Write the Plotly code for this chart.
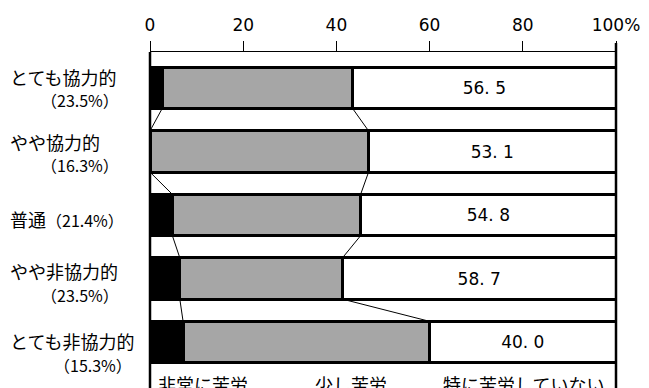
import plotly.graph_objects as go

# Data (rows top to bottom)
categories = ["とても協力的", "やや協力的", "普通", "やや非協力的", "とても非協力的"]
shares = ["23.5%", "16.3%", "21.4%", "23.5%", "15.3%"]
very_hard = [2.6, 0.0, 4.8, 6.4, 7.1]          # 非常に苦労
somewhat_hard = [40.9, 46.9, 40.4, 34.9, 52.9]  # 少し苦労
not_hard = [56.5, 53.1, 54.8, 58.7, 40.0]       # 特に苦労していない
series_names = ["非常に苦労", "少し苦労", "特に苦労していない"]
tick_vals = [0, 20, 40, 60, 80, 100]
tick_text = ["0", "20", "40", "60", "80", "100%"]

JP = "Noto Sans CJK JP"
NUM = "DejaVu Sans"
BW = 0.65
PITCH = 63.5      # px per category
Y0PIX = 88        # px of first bar centre
ypos = list(range(len(categories)))

# label layout (pixel offsets from bar centre, and anchors)
line1_dy = [-11, -9.5, 3.5, -7.7, -1.5]
line2_dy = [12, 13.5, None, 16, 22.5]
line2_right = [121, 121, None, 121, 134]
line1_left = 8

fig = go.Figure()
colors = ["#000000", "#a6a6a6", "#ffffff"]
vals = [very_hard, somewhat_hard, not_hard]
for k in range(3):
    kw = {}
    if k == 2:
        kw = dict(
            text=[f"{v:.1f}".replace(".", ". ") for v in not_hard],
            textposition="inside",
            insidetextanchor="middle",
            textangle=0,
            constraintext="none",
            textfont=dict(family=NUM, size=17, color="black"),
        )
    fig.add_trace(go.Bar(
        y=ypos, x=vals[k], orientation="h", width=BW, name=series_names[k],
        marker=dict(color=colors[k], line=dict(color="black", width=3)),
        showlegend=False, hoverinfo="skip", **kw))

# series connector lines
cum1 = very_hard
cum2 = [a + b for a, b in zip(very_hard, somewhat_hard)]
shapes = []
for cum in (cum1, cum2):
    for i in range(len(categories) - 1):
        shapes.append(dict(type="line", xref="x", yref="y",
                           x0=cum[i], y0=i + BW / 2, x1=cum[i + 1], y1=i + 1 - BW / 2,
                           line=dict(color="black", width=1), layer="below"))
# frame verticals at 0 and 100
shapes.append(dict(type="line", xref="paper", yref="paper", x0=0, x1=0, y0=-0.1, y1=1,
                   line=dict(color="black", width=2.5)))
shapes.append(dict(type="line", xref="paper", yref="paper", x0=1, x1=1, y0=-0.1, y1=1 + 9 / 336,
                   line=dict(color="black", width=2.5)))

PW = 466
annotations = []
for i, (c, s) in enumerate(zip(categories, shares)):
    if line2_dy[i] is None:
        txt = f"{c}<span style='font-size:16px'>（{s}）</span>"
    else:
        txt = c
        annotations.append(dict(xref="paper", yref="y", x=(line2_right[i] - 150) / PW,
                                y=i + line2_dy[i] / PITCH, text=f"（{s}）",
                                xanchor="right", yanchor="middle", showarrow=False,
                                font=dict(family=JP, size=16, color="black")))
    annotations.append(dict(xref="paper", yref="y", x=(line1_left - 150) / PW,
                            y=i + line1_dy[i] / PITCH, text=txt,
                            xanchor="left", yanchor="middle", showarrow=False,
                            font=dict(family=JP, size=18, color="black")))
leg_left = [156, 313, 441]
for name, lx in zip(series_names, leg_left):
    annotations.append(dict(xref="paper", yref="paper", x=(lx - 150) / PW, y=(388 - 369) / 336,
                            text=name, xanchor="left", yanchor="top", showarrow=False,
                            font=dict(family=JP, size=18, color="black")))

fig.update_layout(
    width=649, height=388,
    margin=dict(l=150, r=33, t=52, b=0, pad=0),
    barmode="stack",
    paper_bgcolor="white", plot_bgcolor="white",
    shapes=shapes, annotations=annotations,
    xaxis=dict(side="top", range=[0, 100], tickvals=tick_vals, ticktext=tick_text,
               ticks="outside", ticklen=10, tickwidth=1, tickcolor="black",
               showline=True, linecolor="black", linewidth=1,
               showgrid=False, zeroline=False,
               tickfont=dict(family=NUM, size=17, color="black"), ticklabelstandoff=3),
    yaxis=dict(range=[(388 - Y0PIX) / PITCH, (52 - Y0PIX) / PITCH],
               showticklabels=False, showgrid=False,
               zeroline=False, showline=False, ticks=""),
)

fig.write_html("out.html")
